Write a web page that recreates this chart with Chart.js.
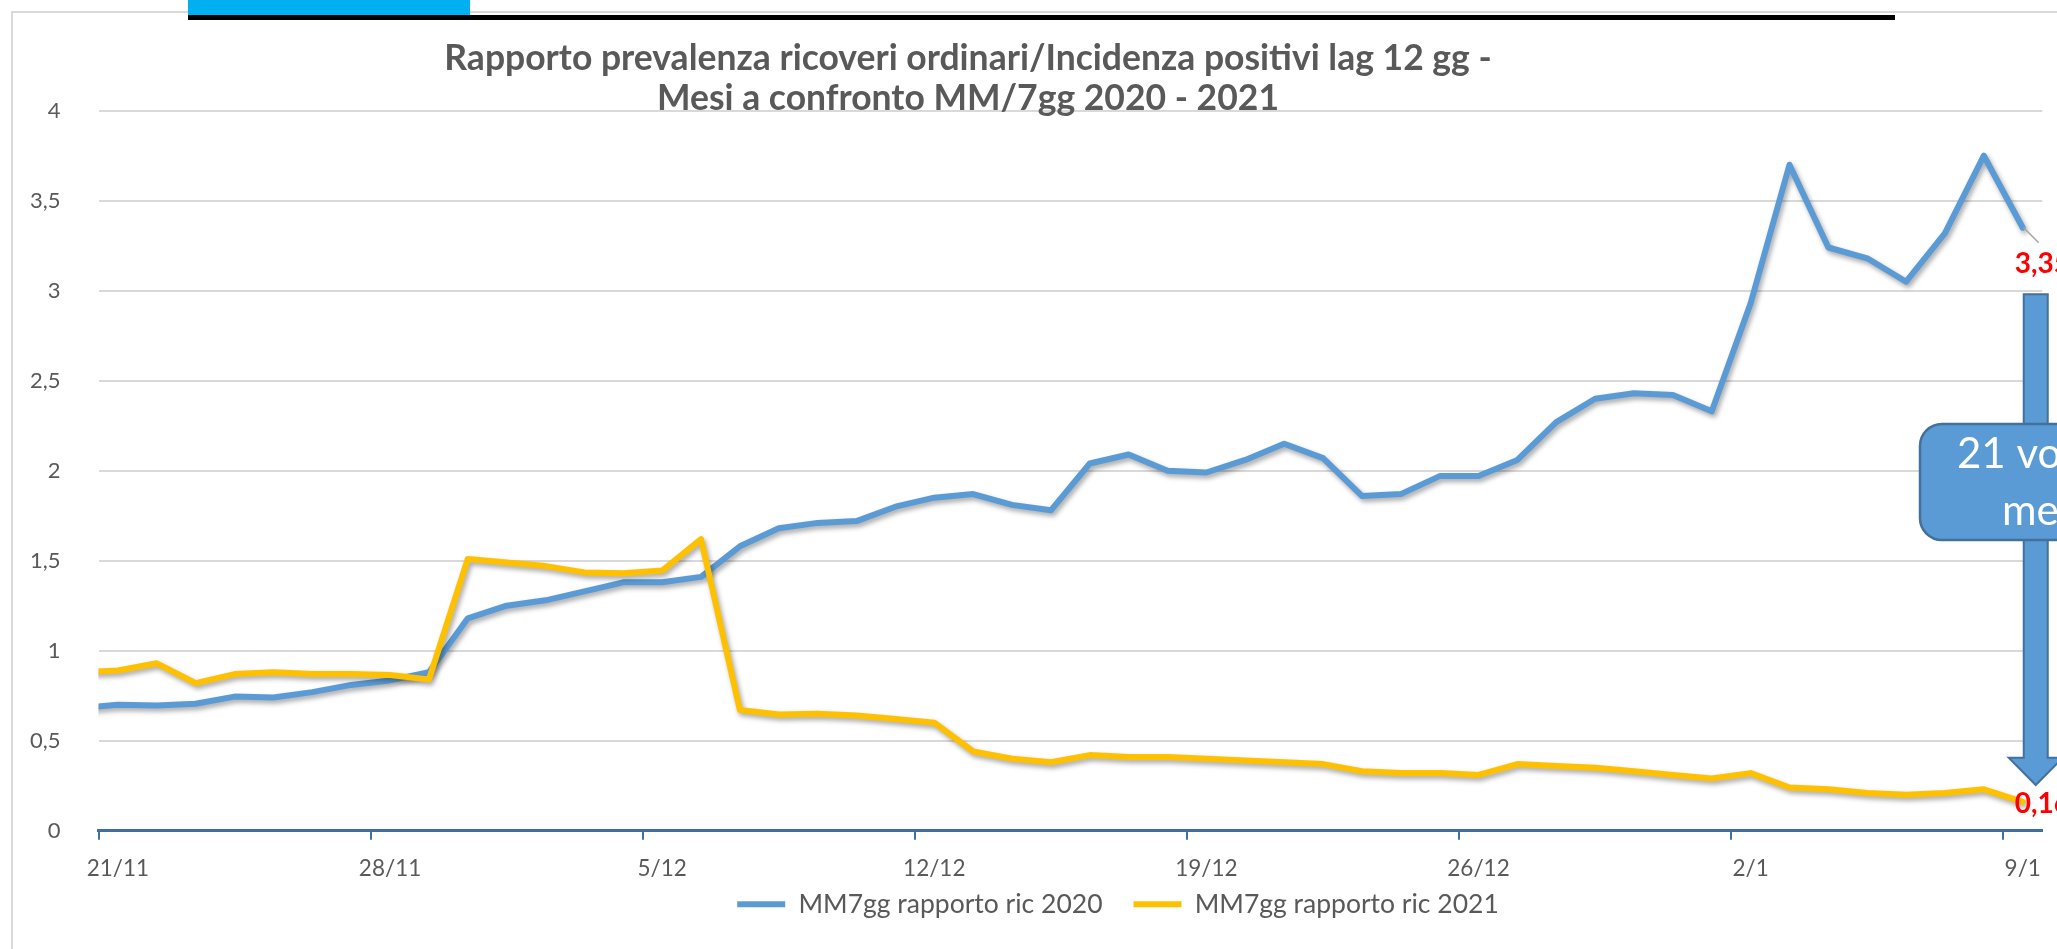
<!DOCTYPE html>
<html>
<head>
<meta charset="utf-8">
<script src="https://cdn.jsdelivr.net/npm/chart.js@4.4.0/dist/chart.umd.min.js"></script>
<style>
  html, body { margin: 0; padding: 0; background: #fff; }
  canvas { display: block; }
</style>
</head>
<body>
<canvas id="ricoveri" width="2057" height="949"></canvas>
<script>
// giorni (20/11 serve solo per l'inizio della linea, l'asse parte dal 21/11)
var giorni = ['20/11','21/11','22/11','23/11','24/11','25/11','26/11','27/11','28/11','29/11','30/11',
  '1/12','2/12','3/12','4/12','5/12','6/12','7/12','8/12','9/12','10/12','11/12','12/12','13/12','14/12','15/12',
  '16/12','17/12','18/12','19/12','20/12','21/12','22/12','23/12','24/12','25/12','26/12','27/12','28/12','29/12',
  '30/12','31/12','1/1','2/1','3/1','4/1','5/1','6/1','7/1','8/1','9/1'];

var ric2020 = [0.68, 0.70, 0.695, 0.705, 0.745, 0.74, 0.77, 0.81, 0.835, 0.88, 1.18,
  1.25, 1.28, 1.33, 1.38, 1.38, 1.41, 1.58, 1.68, 1.71, 1.72, 1.80, 1.85, 1.87, 1.81, 1.78,
  2.04, 2.09, 2.00, 1.99, 2.06, 2.15, 2.07, 1.86, 1.87, 1.97, 1.97, 2.06, 2.27, 2.40,
  2.43, 2.42, 2.33, 2.93, 3.70, 3.24, 3.18, 3.05, 3.32, 3.75, 3.35];

var ric2021 = [0.88, 0.89, 0.93, 0.82, 0.87, 0.88, 0.87, 0.87, 0.865, 0.84, 1.51,
  1.49, 1.47, 1.435, 1.43, 1.445, 1.62, 0.67, 0.645, 0.65, 0.64, 0.62, 0.60, 0.44, 0.40, 0.38,
  0.42, 0.41, 0.41, 0.40, 0.39, 0.38, 0.37, 0.33, 0.32, 0.32, 0.31, 0.37, 0.36, 0.35,
  0.33, 0.31, 0.29, 0.32, 0.24, 0.23, 0.21, 0.20, 0.21, 0.23, 0.16];

var etichetteX = ['21/11','28/11','5/12','12/12','19/12','26/12','2/1','9/1'];
var titolo = ['Rapporto prevalenza ricoveri ordinari/Incidenza positivi lag 12 gg -',
  'Mesi a confronto MM/7gg 2020 - 2021'];
var nomi = ['MM7gg rapporto ric 2020', 'MM7gg rapporto ric 2021'];
var nota = ['21 volte', 'meno'];

function virgola(v) { return String(v).replace('.', ','); }

// sfondo, bordo e pezzo di slide sopra
var sfondo = {
  id: 'sfondo',
  beforeDraw: function(chart) {
    var c = chart.ctx;
    c.save();
    c.fillStyle = '#fff';
    c.fillRect(0, 0, chart.width, chart.height);
    c.strokeStyle = '#d9d9d9';
    c.lineWidth = 2;
    c.strokeRect(12, 12, chart.width + 40, chart.height + 40);
    c.fillStyle = '#00b0f0';
    c.fillRect(188, 0, 282, 15);
    c.fillStyle = '#000';
    c.fillRect(188, 15, 1707, 5);
    c.restore();
  },
  afterLayout: function(chart) {
    // legenda messa dove sta nell'originale
    var lg = chart.legend;
    lg.left += 96;
    lg.right += 96;
    lg.top = 860;
    lg.bottom = 945;
  }
};

// ombra sotto le linee
var ombra = {
  id: 'ombra',
  beforeDatasetDraw: function(chart) {
    var c = chart.ctx;
    c.save();
    c.shadowColor = 'rgba(0,0,0,0.35)';
    c.shadowBlur = 5;
    c.shadowOffsetX = 2;
    c.shadowOffsetY = 3;
  },
  afterDatasetDraw: function(chart) {
    chart.ctx.restore();
  }
};

// titolo, etichette finali, freccia e riquadro
var note = {
  id: 'note',
  afterDraw: function(chart) {
    var c = chart.ctx;
    var y = chart.scales.y;
    var n = giorni.length - 1;
    var p20 = chart.getDatasetMeta(0).data[n];
    var p21 = chart.getDatasetMeta(1).data[n];
    c.save();

    c.fillStyle = '#595959';
    c.font = 'bold 35.5px Lato';
    c.textAlign = 'center';
    c.textBaseline = 'middle';
    c.fillText(titolo[0], 968, 59);
    c.fillText(titolo[1], 968, 99);

    c.strokeStyle = '#a6a6a6';
    c.lineWidth = 1.5;
    c.beginPath();
    c.moveTo(p20.x + 1, p20.y);
    c.lineTo(p20.x + 16, p20.y + 15);
    c.stroke();

    c.fillStyle = '#ff0000';
    c.font = 'bold 28px Lato';
    c.textAlign = 'left';
    c.fillText(virgola(ric2020[n]), p20.x - 8, p20.y + 36);
    c.fillText(virgola(ric2021[n]), p21.x - 8, p21.y + 2);

    var cx = p20.x + 13;
    var top = y.getPixelForValue(2.98);
    var testa = y.getPixelForValue(0.405);
    var punta = y.getPixelForValue(0.254);
    c.beginPath();
    c.moveTo(cx - 12, top);
    c.lineTo(cx + 12, top);
    c.lineTo(cx + 12, testa);
    c.lineTo(cx + 27, testa);
    c.lineTo(cx, punta);
    c.lineTo(cx - 27, testa);
    c.lineTo(cx - 12, testa);
    c.closePath();
    c.fillStyle = '#5b9bd5';
    c.fill();
    c.strokeStyle = '#41719c';
    c.lineWidth = 2;
    c.stroke();

    c.beginPath();
    c.roundRect(1920, 424, 260, 116, 22);
    c.fillStyle = '#5b9bd5';
    c.fill();
    c.lineWidth = 2.5;
    c.stroke();

    c.fillStyle = '#fff';
    c.font = '42px Lato';
    c.textBaseline = 'alphabetic';
    c.fillText(nota[0], 1957, 468);
    c.fillText(nota[1], 2002, 525);
    c.restore();
  }
};

var ctx = document.getElementById('ricoveri');
var chart = new Chart(ctx, {
  type: 'line',
  data: {
    labels: giorni,
    datasets: [{
      label: nomi[0],
      data: ric2020,
      borderColor: '#5b9bd5',
      backgroundColor: '#5b9bd5',
      pointBorderWidth: 6,
      order: 1
    }, {
      label: nomi[1],
      data: ric2021,
      borderColor: '#ffc000',
      backgroundColor: '#ffc000',
      pointBorderWidth: 6,
      order: 0
    }]
  },
  options: {
    responsive: false,
    animation: false,
    layout: { padding: { top: 110.7, left: 0, right: 13, bottom: 22.3 } },
    elements: {
      line: { borderWidth: 6, tension: 0, borderJoinStyle: 'round', borderCapStyle: 'round' },
      point: { radius: 0 }
    },
    datasets: { line: { clip: 0 } },
    scales: {
      x: {
        type: 'category',
        min: '21/11',
        offset: true,
        afterFit: function(scale) { scale.height = 56; },
        grid: {
          offset: true,
          drawOnChartArea: false,
          tickLength: 9,
          lineWidth: 2,
          tickColor: function(ctx) {
            if (!ctx.tick) return 'rgba(0,0,0,0)';
            return etichetteX.indexOf(giorni[ctx.tick.value]) >= 0 ? '#41719c' : 'rgba(0,0,0,0)';
          }
        },
        border: { color: '#3f6f9f', width: 3 },
        ticks: {
          autoSkip: false,
          maxRotation: 0,
          padding: 16,
          color: '#595959',
          font: { family: 'Lato', size: 22.5 },
          callback: function(value) {
            var g = giorni[value];
            return etichetteX.indexOf(g) >= 0 ? g : '';
          }
        }
      },
      y: {
        min: 0,
        max: 4,
        afterFit: function(scale) { scale.width = 98.5; },
        grid: { color: '#d9d9d9', lineWidth: 2, drawTicks: false },
        border: { display: false },
        ticks: {
          stepSize: 0.5,
          padding: 38,
          color: '#595959',
          font: { family: 'Lato', size: 22 },
          callback: function(value) { return virgola(value); }
        }
      }
    },
    plugins: {
      title: { display: false },
      tooltip: { enabled: false },
      legend: {
        position: 'bottom',
        maxHeight: 40,
        labels: {
          usePointStyle: true,
          pointStyle: 'line',
          pointStyleWidth: 48,
          padding: 31,
          color: '#595959',
          font: { family: 'Lato', size: 26.5 },
          sort: function(a, b) { return a.datasetIndex - b.datasetIndex; }
        }
      }
    }
  },
  plugins: [sfondo, ombra, note]
});
</script>
</body>
</html>
